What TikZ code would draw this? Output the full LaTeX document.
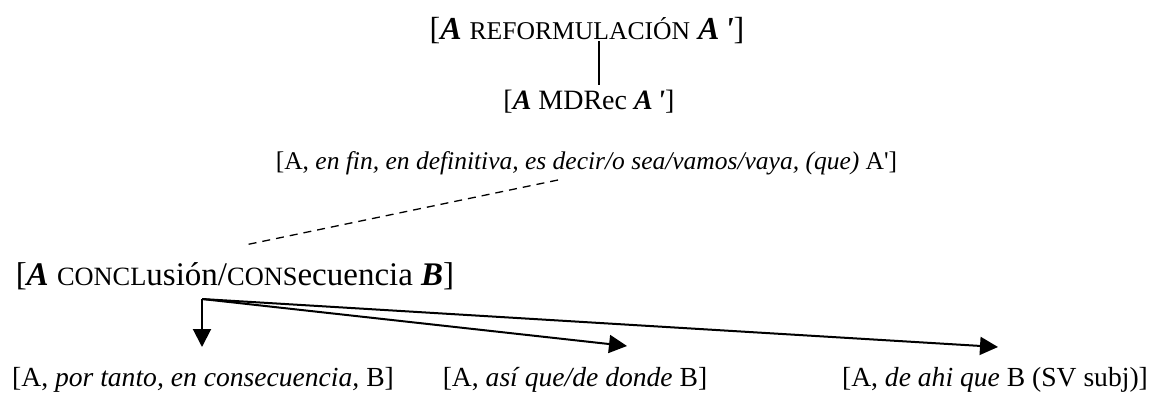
\documentclass[tikz,border=0pt]{standalone}
\usepackage{fontspec}
\setmainfont{Liberation Serif}
\usepackage{graphicx}
\usetikzlibrary{arrows.meta}
\newcommand\fsc[1]{\scalebox{0.8}{#1}}
\newcommand\bA{\textbf{\textit{A}}}
\newcommand\bAp{\textbf{\textit{A\,\textquotesingle}}}
\newcommand\bB{\textbf{\textit{B}}}
\begin{document}
\begin{tikzpicture}[x=1pt,y=-1pt,
  lbl/.style={inner sep=0pt, anchor=base},
  arr/.style={line width=2pt, -{Triangle[length=18pt,width=18pt]}},
  dashline/.style={line width=1.3pt, dash pattern=on 8pt off 6pt},
  solidline/.style={line width=2.2pt}]
\useasboundingbox (0,0) rectangle (1152,392);
\node[lbl, font=\fontsize{32}{36}\selectfont] (top) at (587,39) {[\bA{} \fsc{REFORMULACIÓN} \bAp]};
\node[lbl, font=\fontsize{28}{32}\selectfont] (mdrec) at (589,109) {[\bA{} MDRec \bAp]};
\node[lbl, font=\fontsize{25.5}{30}\selectfont] (mid) at (586.5,169) {[A, \textit{en fin, en definitiva, es decir/o sea/vamos/vaya, (que)} A\textquotesingle]};
\node[lbl, font=\fontsize{33}{38}\selectfont] (concl) at (235,285) {[\bA{} \fsc{CONCL}usión/\fsc{CONS}ecuencia \bB]};
\node[lbl, font=\fontsize{27.6}{32}\selectfont] (t1) at (203,386) {[A, \textit{por tanto, en consecuencia,} B]};
\node[lbl, font=\fontsize{27.6}{32}\selectfont] (t2) at (575,386) {[A, \textit{así que/de donde} B]};
\node[lbl, font=\fontsize{27.6}{32}\selectfont] (t3) at (995,386) {[A, \textit{de ahi que} B (SV subj)]};
\coordinate (l1) at (599,41);
\coordinate (l2) at (599,85);
\draw[solidline] (l1) -- (l2);
\coordinate (d1) at (558,180);
\coordinate (d2) at (245,245);
\draw[dashline] (d1) -- (d2);
\coordinate (fork) at (202,299);
\coordinate (tip1) at (202,347);
\coordinate (tip2) at (627,346);
\coordinate (tip3) at (998,347);
\draw[arr] (fork) -- (tip1);
\draw[arr] (fork) -- (tip2);
\draw[arr] (fork) -- (tip3);
\end{tikzpicture}
\end{document}
